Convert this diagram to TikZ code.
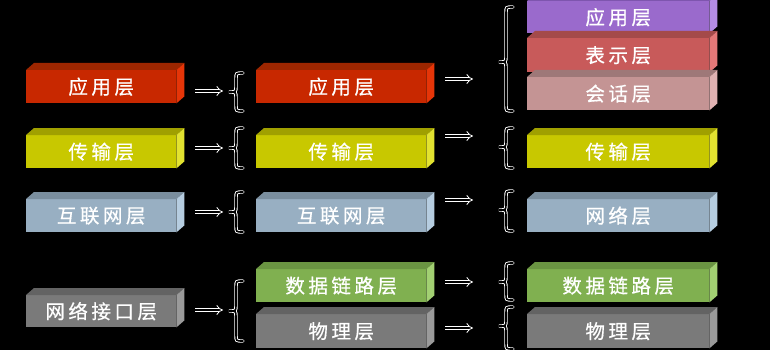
\documentclass[tikz,border=0pt]{standalone}
\usepackage{fontspec}
\newfontfamily\cjk[LetterSpace=18,FakeBold=0.6]{Noto Sans CJK SC}
\usetikzlibrary{arrows.meta}
\definecolor{redF}{HTML}{C82800}\definecolor{redT}{HTML}{9C2600}\definecolor{redS}{HTML}{E63508}
\definecolor{yelF}{HTML}{C8C800}\definecolor{yelT}{HTML}{A0A000}\definecolor{yelS}{HTML}{E2E230}
\definecolor{bluF}{HTML}{98AFC2}\definecolor{bluT}{HTML}{7A8E9E}\definecolor{bluS}{HTML}{B6CDE0}
\definecolor{gryF}{HTML}{7A7A7A}\definecolor{gryT}{HTML}{636363}\definecolor{gryS}{HTML}{9A9A9A}
\definecolor{grnF}{HTML}{80B050}\definecolor{grnT}{HTML}{6A9442}\definecolor{grnS}{HTML}{A2D072}
\definecolor{purF}{HTML}{9A6ACC}\definecolor{purT}{HTML}{7E55AE}\definecolor{purS}{HTML}{B48CE4}
\definecolor{preF}{HTML}{C85A5A}\definecolor{preT}{HTML}{A44A4A}\definecolor{preS}{HTML}{E47878}
\definecolor{sesF}{HTML}{C49494}\definecolor{sesT}{HTML}{9E7878}\definecolor{sesS}{HTML}{E0B2B2}
\tikzset{
  layer/.style={anchor=north west, inner sep=0pt, text=white, font=\cjk\fontsize{19.5}{21}\selectfont},
  dblarrow/.style={white, line width=0.8pt, double=black, double distance=2.6pt, -{Implies}},
  bracestyle/.style={white, line width=0.9pt, double=black, double distance=1.6pt, line cap=round}
}
\newcommand\layerbox[7]{%
  \node[layer, fill=#6F, minimum width=#4pt, minimum height=#5pt] (#1) at (#2,#3) {\raisebox{-1.5pt}{#7}};
  \fill[#6T] (#1.north west) -- ++(8,-7) -- ([shift={(8,-7)}]#1.north east) -- (#1.north east) -- cycle;
  \fill[#6S] (#1.north east) -- ++(8,-7) -- ([shift={(8,-7)}]#1.south east) -- (#1.south east) -- cycle;
}
\newcommand\obrace[5]{%
  \draw[bracestyle] (#2,#3) .. controls ({(#1+#2)/2},#3) .. ({(#1+#2)/2},{#3+6})
    -- ({(#1+#2)/2},{#4-6}) .. controls ({(#1+#2)/2},#4) .. (#1,#4)
    .. controls ({(#1+#2)/2},#4) .. ({(#1+#2)/2},{#4+6})
    -- ({(#1+#2)/2},{#5-6}) .. controls ({(#1+#2)/2},#5) .. (#2,#5);
}
\begin{document}
\begin{tikzpicture}[x=1pt,y=-1pt]
\fill[black] (0,0) rectangle (770,350);
\useasboundingbox (0,0) rectangle (770,350);
% column 1
\layerbox{c1a}{26}{70}{150}{33}{red}{应用层}
\layerbox{c1b}{26}{135}{150}{33}{yel}{传输层}
\layerbox{c1c}{26}{199}{150}{33}{blu}{互联网层}
\layerbox{c1d}{26}{295}{150}{32}{gry}{网络接口层}
% column 2
\layerbox{c2a}{256}{70}{170}{33}{red}{应用层}
\layerbox{c2b}{256}{135}{170}{33}{yel}{传输层}
\layerbox{c2c}{256}{199}{170}{33}{blu}{互联网层}
\layerbox{c2d}{256}{269}{170}{33}{grn}{数据链路层}
\layerbox{c2e}{256}{314}{170}{34}{gry}{物理层}
% column 3
\layerbox{c3a}{527}{1}{182}{32}{pur}{应用层}
\layerbox{c3b}{527}{38}{182}{34}{pre}{表示层}
\layerbox{c3c}{527}{77}{182}{33}{ses}{会话层}
\layerbox{c3d}{527}{135}{182}{33}{yel}{传输层}
\layerbox{c3e}{527}{199}{182}{33}{blu}{网络层}
\layerbox{c3f}{527}{269}{182}{33}{grn}{数据链路层}
\layerbox{c3g}{527}{314}{182}{34}{gry}{物理层}
% arrows column 1 -> 2
\foreach \n/\y in {p1/91, p2/148, p3/212, p4/310}{
  \coordinate (\n s) at (195,\y); \coordinate (\n e) at (223,\y);
  \draw[dblarrow] (\n s) -- (\n e);
}
% arrows column 2 -> 3
\foreach \n/\y in {q1/79, q2/136, q3/200, q4/282, q5/328}{
  \coordinate (\n s) at (445,\y); \coordinate (\n e) at (473,\y);
  \draw[dblarrow] (\n s) -- (\n e);
}
% braces
\obrace{229}{243}{73}{92}{111}
\obrace{229}{243}{128}{148}{168}
\obrace{229}{243}{192}{212}{232}
\obrace{229}{243}{281}{311}{341}
\obrace{499}{513}{7}{62}{111}
\obrace{499}{513}{128}{147}{168}
\obrace{499}{513}{191}{210}{231}
\obrace{499}{513}{263}{282}{300}
\obrace{499}{513}{307}{326}{349}
\end{tikzpicture}
\end{document}
